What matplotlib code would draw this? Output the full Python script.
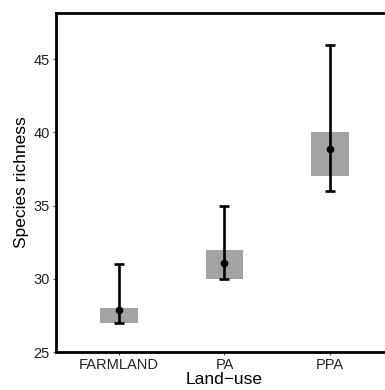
import numpy as np
import matplotlib
matplotlib.use('Agg')
import matplotlib.pyplot as plt

plt.rcParams['font.family'] = ['Liberation Sans', 'DejaVu Sans']

# data
landuse = ['FARMLAND', 'PA', 'PPA']
box_low = [27, 30, 37]
box_high = [28, 32, 40]
err_low = [27, 30, 36]
err_high = [31, 35, 46]
means = [27.9, 31.1, 38.9]

x = np.arange(1, len(landuse) + 1)

fig = plt.figure(figsize=(3.85, 3.9), dpi=100)
ax = fig.add_axes([0.1455, 0.0974, 0.875, 0.869])

ax.bar(x, np.array(box_high) - np.array(box_low), bottom=box_low, width=0.36,
       color='#a3a3a3', edgecolor='none', zorder=1)
ax.errorbar(x, means,
            yerr=[np.array(means) - np.array(err_low), np.array(err_high) - np.array(means)],
            fmt='o', color='black', ms=4.5, elinewidth=1.9, capsize=3.6, capthick=1.9,
            zorder=3)

ax.set_xlim(0.4, 3.6)
ax.set_ylim(25, 48.15)
ax.set_xticks(x)
ax.set_xticklabels(landuse)
ax.set_yticks([25, 30, 35, 40, 45])
ax.tick_params(axis='both', labelsize=10.5, colors='#4d4d4d', labelcolor='#222222',
               length=2.5, width=0.8, pad=2)

for side in ['top', 'left', 'bottom']:
    ax.spines[side].set_linewidth(2.0)
ax.spines['right'].set_visible(False)

ax.set_xlabel('Land\u2212use', fontsize=12.5, labelpad=0)
ax.set_ylabel('Species richness', fontsize=12.5, labelpad=3)

fig.savefig('out.png', dpi=100)
